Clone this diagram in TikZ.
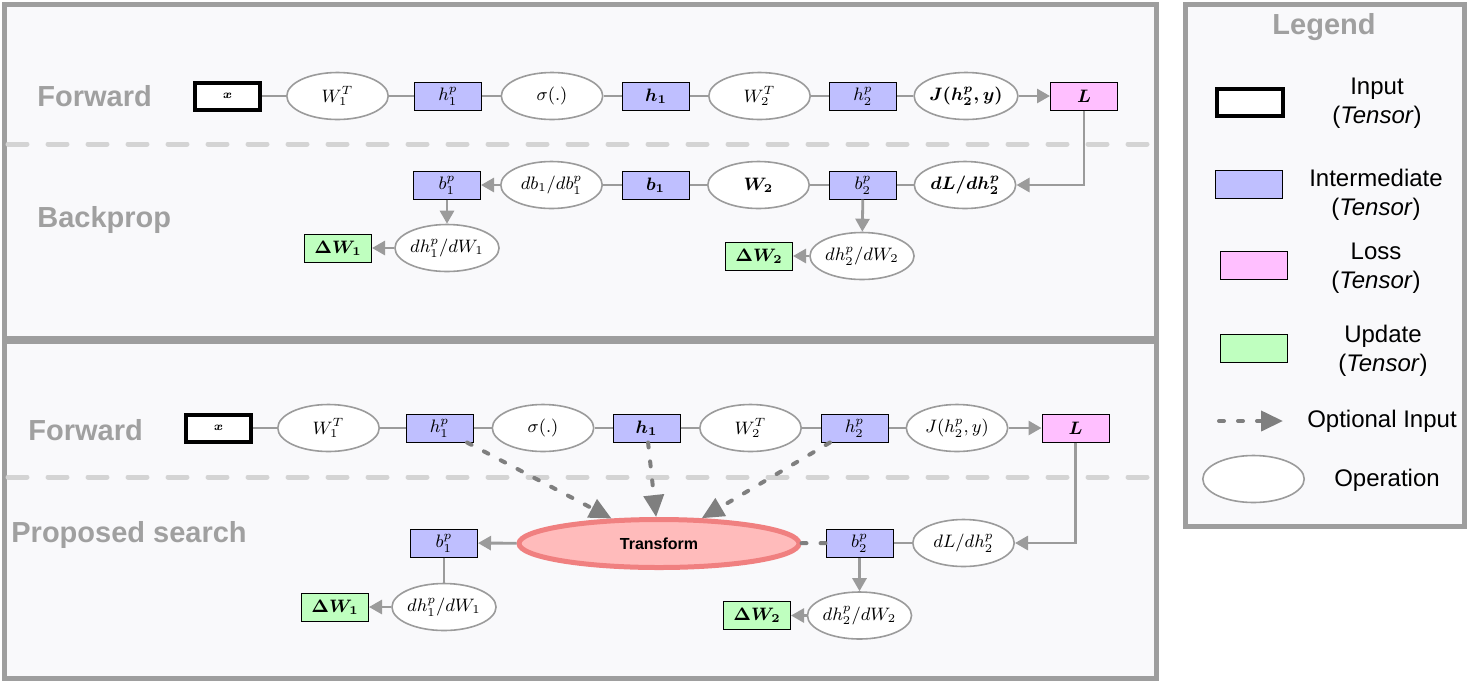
\documentclass[tikz,border=0pt]{standalone}
\usepackage{fontspec}
\setmainfont{Liberation Sans}
\usepackage{amsmath}
\usetikzlibrary{shapes.geometric,arrows.meta}

\definecolor{panelgray}{HTML}{9E9E9E}
\definecolor{panelfill}{HTML}{F9F9FB}
\definecolor{sepgray}{HTML}{D4D4D4}
\definecolor{linkgray}{HTML}{9B9B9B}
\definecolor{optgray}{HTML}{7F7F7F}
\definecolor{interfill}{HTML}{BFBFFF}
\definecolor{lossfill}{HTML}{FFBFFF}
\definecolor{updfill}{HTML}{BFFFBF}
\definecolor{tffill}{HTML}{FFBBBB}
\definecolor{tfdraw}{HTML}{F08080}
\definecolor{titlegray}{HTML}{A0A0A0}

\newcommand{\mathsize}{\fontsize{9}{10}\selectfont}

\begin{document}
\begin{tikzpicture}[x=0.5pt, y=-0.5pt,
		panel/.style={draw=panelgray, line width=2.5pt, fill=panelfill},
		sepline/.style={draw=sepgray, line width=2.5pt, line cap=round, dash pattern=on 9.5pt off 10.5pt},
		title/.style={anchor=west, inner sep=0pt, text=titlegray, font=\fontsize{14.5}{16}\selectfont\bfseries},
		tensor/.style={rectangle, draw=black, line width=0.5pt, minimum width=33.5pt, minimum height=14pt, inner sep=0pt, font=\mathsize\boldmath},
		inp/.style={tensor, fill=white, line width=2pt, minimum width=32.5pt, minimum height=13.5pt},
		inter/.style={tensor, fill=interfill},
		loss/.style={tensor, fill=lossfill},
		upd/.style={tensor, fill=updfill},
		plain/.style={font=\mathsize\unboldmath},
		heavy/.style={font=\mathsize\boldmath},
		op/.style={ellipse, draw=linkgray, line width=0.8pt, fill=white, minimum width=50.7pt, minimum height=23.5pt, inner sep=0pt, font=\mathsize},
		tform/.style={ellipse, draw=tfdraw, line width=2.5pt, fill=tffill, minimum width=140pt, minimum height=24pt, inner sep=0pt, font=\fontsize{8}{10}\selectfont\bfseries},
		link/.style={draw=linkgray, line width=1.4pt},
		arr/.style={link, -{Triangle[length=6.5pt, width=7pt]}},
		optin/.style={draw=optgray, line width=2pt, line cap=round, dash pattern=on 2.5pt off 7pt},
		optarr/.style={optin, -{Triangle[length=11pt, width=10pt]}},
		legtext/.style={align=center, font=\fontsize{12}{14.5}\selectfont}]
		\fill[white] (0,0) rectangle (1468,682);
		\useasboundingbox (0,0) rectangle (1468,682);
		\draw[panel] (4,4) rectangle (1156,338);
		\draw[panel] (4,341) rectangle (1156,678);
		\draw[panel] (1185,4) rectangle (1464,526);
		\draw[sepline] (8,144) -- (1154,144);
		\draw[sepline] (8,477) -- (1154,477);

		\node[title] (fwda) at (37,96) {Forward};
		\node[title] (bpa) at (37,220) {Backprop};
		\node[title] (fwdb) at (28,430) {Forward};
		\node[title] (psb) at (11,535) {Proposed search};

		\node[inp] (xa) at (227.5,96) {$\scriptstyle x$};
		\node[op] (w1a) at (337.5,96) {$W_1^T$};
		\node[inter, plain] (h1pa) at (448,96) {$h_1^p$};
		\node[op] (sga) at (552,96) {$\sigma(.)$};
		\node[inter] (h1a) at (656,96) {$h_1$};
		\node[op] (w2a) at (759.5,96) {$W_2^T$};
		\node[inter, plain] (h2pa) at (863,96) {$h_2^p$};
		\node[op, heavy] (ja) at (966,96) {$J(h_2^p,y)$};
		\node[loss] (la) at (1084,96) {$L$};

		\node[inter, plain] (b1pa) at (447,185) {$b_1^p$};
		\node[op] (dba) at (551.5,185) {$db_1/db_1^p$};
		\node[inter] (b1a) at (655.5,185) {$b_1$};
		\node[op, heavy] (w2ba) at (758.5,185) {$W_2$};
		\node[inter, plain] (b2pa) at (863,185) {$b_2^p$};
		\node[op, heavy] (dla) at (965,185) {$dL/dh_2^p$};
		\node[op] (dh1a) at (447,248) {$dh_1^p/dW_1$};
		\node[upd] (dw1a) at (338,248) {$\Delta W_1$};
		\node[op] (dh2a) at (862,256) {$dh_2^p/dW_2$};
		\node[upd] (dw2a) at (759,256) {$\Delta W_2$};

		\foreach \a/\b in {xa/w1a, w1a/h1pa, h1pa/sga, sga/h1a, h1a/w2a, w2a/h2pa, h2pa/ja, dba/b1a, b1a/w2ba, w2ba/b2pa, b2pa/dla}
			\draw[link] (\a) -- (\b);
		\draw[arr] (ja) -- (la);
		\draw[arr] (la) |- (dla);
		\draw[arr] (dba) -- (b1pa);
		\draw[arr] (b1pa) -- (dh1a);
		\draw[arr] (dh1a) -- (dw1a);
		\draw[arr] (b2pa) -- (dh2a);
		\draw[arr] (dh2a) -- (dw2a);

		\node[inp] (xb) at (218.5,428) {$\scriptstyle x$};
		\node[op] (w1b) at (328.5,428) {$W_1^T$};
		\node[inter, plain] (h1pb) at (439.5,428) {$h_1^p$};
		\node[op] (sgb) at (543,428) {$\sigma(.)$};
		\node[inter] (h1b) at (646.5,428) {$h_1$};
		\node[op] (w2b) at (750.5,428) {$W_2^T$};
		\node[inter, plain] (h2pb) at (854.5,428) {$h_2^p$};
		\node[op] (jb) at (957,428) {$J(h_2^p,y)$};
		\node[loss] (lb) at (1075.5,428) {$L$};

		\node[inter, plain] (b1pb) at (444,543) {$b_1^p$};
		\node[tform] (tf) at (659,543.5) {Transform};
		\node[inter, plain] (b2pb) at (859.5,543) {$b_2^p$};
		\node[op] (dlb) at (963.5,543) {$dL/dh_2^p$};
		\node[op] (dh1b) at (444,607) {$dh_1^p/dW_1$};
		\node[upd] (dw1b) at (335,607) {$\Delta W_1$};
		\node[op] (dh2b) at (859.5,615.5) {$dh_2^p/dW_2$};
		\node[upd] (dw2b) at (757,615.5) {$\Delta W_2$};

		\foreach \a/\b in {xb/w1b, w1b/h1pb, h1pb/sgb, sgb/h1b, h1b/w2b, w2b/h2pb, h2pb/jb, b1pb/dh1b, b2pb/dlb}
			\draw[link] (\a) -- (\b);
		\draw[arr] (jb) -- (lb);
		\draw[arr] (lb) |- (dlb);
		\draw[arr] (tf) -- (b1pb);
		\draw[arr] (dh1b) -- (dw1b);
		\draw[arr] (b2pb) -- (dh2b);
		\draw[arr] (dh2b) -- (dw2b);
		\draw[optin] (b2pb) -- (tf);
		\draw[optarr] (h1pb) -- (tf);
		\draw[optarr] (h1b) -- (tf);
		\draw[optarr] (h2pb) -- (tf);

		\node[title, anchor=center] (legtitle) at (1324,27) {Legend};
		\node[inp, minimum width=33pt] (leginp) at (1249.5,102.5) {};
		\node[legtext] (leginpt) at (1377,103) {Input\\(\textit{Tensor})};
		\node[inter] (leginter) at (1249,184.5) {};
		\node[legtext] (leginterT) at (1376,195) {Intermediate\\(\textit{Tensor})};
		\node[loss] (legloss) at (1253.5,265.5) {};
		\node[legtext] (leglosst) at (1376,268) {Loss\\(\textit{Tensor})};
		\node[upd] (legupd) at (1253.5,348) {};
		\node[legtext] (legupdt) at (1383,351) {Update\\(\textit{Tensor})};
		\coordinate (optfrom) at (1219,421);
		\coordinate (optto) at (1283,421);
		\draw[optarr] (optfrom) -- (optto);
		\node[legtext] (legoptt) at (1382,421) {Optional Input};
		\node[op] (legop) at (1253.5,479) {};
		\node[legtext] (legopt) at (1387,480) {Operation};
\end{tikzpicture}
\end{document}
